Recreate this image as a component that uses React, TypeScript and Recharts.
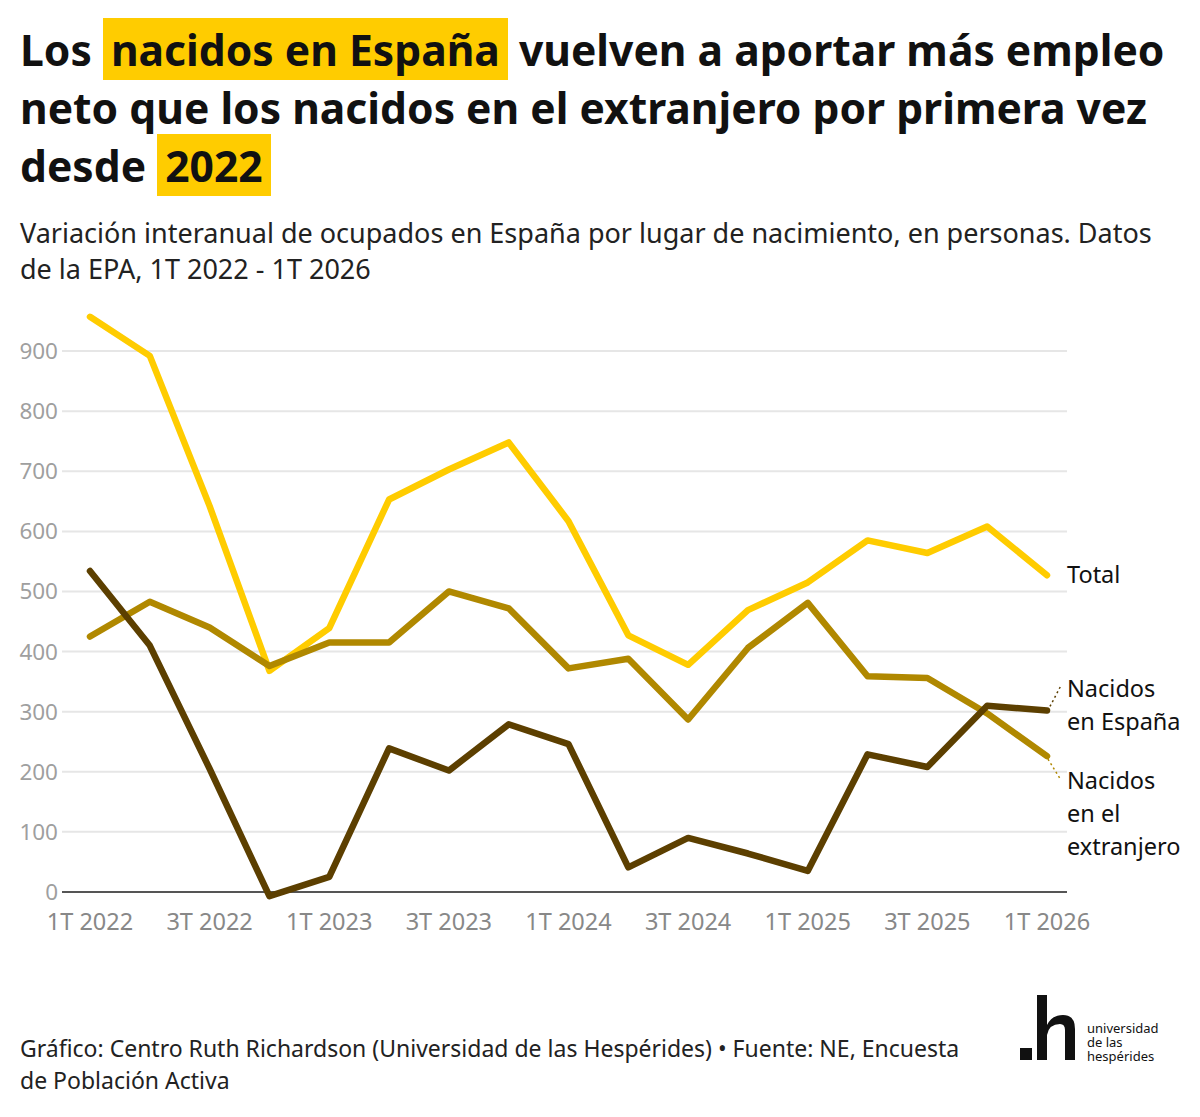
import { LineChart, Line, XAxis, YAxis, ReferenceLine } from 'recharts'

/* ─── Data ─── */

const quarters = [
  '1T 2022', '2T 2022', '3T 2022', '4T 2022',
  '1T 2023', '2T 2023', '3T 2023', '4T 2023',
  '1T 2024', '2T 2024', '3T 2024', '4T 2024',
  '1T 2025', '2T 2025', '3T 2025', '4T 2025',
  '1T 2026',
]

// miles de personas
const total = [957, 892, 642, 368, 439, 653, 703, 748, 617, 427, 378, 469, 515, 585, 564, 608, 527]
const nacidosEspana = [534, 410, 205, -7, 25, 239, 202, 279, 246, 41, 90, 64, 35, 229, 208, 310, 302]
const nacidosExtranjero = [425, 483, 440, 376, 415, 415, 500, 472, 372, 388, 287, 406, 481, 359, 356, 297, 226]

const yTicks = [0, 100, 200, 300, 400, 500, 600, 700, 800, 900]

const chartData = quarters.map((q, i) => ({
  q,
  total: total[i],
  espana: nacidosEspana[i],
  extranjero: nacidosExtranjero[i],
}))

/* ─── Style ─── */

const FONT = '"Noto Sans", "Open Sans", sans-serif'
const C_TOTAL = '#ffcc00'
const C_EXT = '#b08800'
const C_ESP = '#5c3f00'
const LAST = quarters.length - 1

const labelText = { fontFamily: FONT, fontSize: 23.5, fill: '#111' }

function makeEndLabel(kind: 'total' | 'espana' | 'extranjero') {
  return (props: any) => {
    const { x, y, index } = props
    if (index !== LAST) return <g />
    const lx = x + 20
    if (kind === 'total') {
      return (
        <text x={lx} y={y} dy="0.35em" {...labelText}>Total</text>
      )
    }
    if (kind === 'espana') {
      return (
        <g>
          <line x1={x + 3} y1={y - 4} x2={x + 14} y2={y - 25} stroke={C_ESP} strokeWidth={1.5} strokeDasharray="2 3" />
          <text x={lx} y={y - 22} dy="0.35em" {...labelText}>Nacidos</text>
          <text x={lx} y={y + 11} dy="0.35em" {...labelText}>en España</text>
        </g>
      )
    }
    return (
      <g>
        <line x1={x + 1} y1={y + 3} x2={x + 14} y2={y + 24} stroke={C_EXT} strokeWidth={1.5} strokeDasharray="2 3" />
        <text x={lx} y={y + 25} dy="0.35em" {...labelText}>Nacidos</text>
        <text x={lx} y={y + 58} dy="0.35em" {...labelText}>en el</text>
        <text x={lx} y={y + 91} dy="0.35em" {...labelText}>extranjero</text>
      </g>
    )
  }
}

function Highlight({ children }: { children: React.ReactNode }) {
  return (
    <span style={{ background: C_TOTAL, padding: '2px 8px' }}>{children}</span>
  )
}

function Logo() {
  return (
    <div style={{ position: 'absolute', left: 1018, top: 993, display: 'flex', alignItems: 'flex-end' }}>
      <svg width={60} height={68} viewBox="0 0 60 68">
        <rect x={2} y={55} width={12} height={12} fill="#111" />
        <rect x={19} y={2} width={10} height={65} fill="#111" />
        <path d="M29 32 Q34 22 45 22 Q57 22 57 36 L57 67 L47 67 L47 37 Q47 31 42 31 Q31 31 29 42 Z" fill="#111" />
      </svg>
      <div style={{ fontFamily: FONT, fontSize: 13, lineHeight: '14px', color: '#111', marginLeft: 9, marginBottom: -2 }}>
        universidad<br />de las<br />hespérides
      </div>
    </div>
  )
}

export default function App() {
  return (
    <div style={{ position: 'absolute', left: 0, top: 0, width: 1200, height: 1117, background: '#fff', overflow: 'hidden' }}>
      <div
        style={{
          position: 'absolute', left: 20, top: 20, width: 1178,
          fontFamily: FONT, fontWeight: 700, fontSize: 42.6, lineHeight: '58px', color: '#111',
        }}
      >
        Los <Highlight>nacidos en España</Highlight> vuelven a aportar más empleo neto que los nacidos en el extranjero por primera vez desde <Highlight>2022</Highlight>
      </div>
      <div
        style={{
          position: 'absolute', left: 20, top: 215, width: 1170,
          fontFamily: FONT, fontSize: 27, lineHeight: '36px', color: '#222',
        }}
      >
        Variación interanual de ocupados en España por lugar de nacimiento, en personas. Datos de la EPA, 1T 2022 - 1T 2026
      </div>

      <div style={{ position: 'absolute', left: 0, top: 290 }}>
        <LineChart width={1200} height={680} data={chartData} margin={{ top: 13, right: 133, left: 0, bottom: 20 }}>
          {yTicks.map((t) => (
            <ReferenceLine key={t} y={t} stroke={t === 0 ? '#555' : '#e6e6e6'} strokeWidth={2} />
          ))}
          <XAxis
            dataKey="q"
            interval={1}
            axisLine={false}
            tickLine={false}
            tickSize={0}
            tickMargin={3}
            height={40}
            padding={{ left: 28, right: 20 }}
            tick={{ fill: '#888', fontSize: 23.5, fontFamily: FONT }}
          />
          <YAxis
            domain={[-30, 980]}
            ticks={yTicks}
            axisLine={false}
            tickLine={false}
            tickSize={2}
            tickMargin={2}
            width={62}
            tick={{ fill: '#9f9f9f', fontSize: 22.5, fontFamily: FONT }}
          />
          <Line
            dataKey="total"
            stroke={C_TOTAL}
            strokeWidth={6.5}
            strokeLinecap="round"
            strokeLinejoin="round"
            dot={false}
            activeDot={false}
            isAnimationActive={false}
            label={makeEndLabel('total')}
          />
          <Line
            dataKey="extranjero"
            stroke={C_EXT}
            strokeWidth={6.5}
            strokeLinecap="round"
            strokeLinejoin="round"
            dot={false}
            activeDot={false}
            isAnimationActive={false}
            label={makeEndLabel('extranjero')}
          />
          <Line
            dataKey="espana"
            stroke={C_ESP}
            strokeWidth={6.5}
            strokeLinecap="round"
            strokeLinejoin="round"
            dot={false}
            activeDot={false}
            isAnimationActive={false}
            label={makeEndLabel('espana')}
          />
        </LineChart>
      </div>

      <div
        style={{
          position: 'absolute', left: 20, top: 1032, width: 965,
          fontFamily: FONT, fontSize: 23, lineHeight: '32px', color: '#222',
        }}
      >
        Gráfico: Centro Ruth Richardson (Universidad de las Hespérides) • Fuente: NE, Encuesta de Población Activa
      </div>
      <Logo />
    </div>
  )
}
